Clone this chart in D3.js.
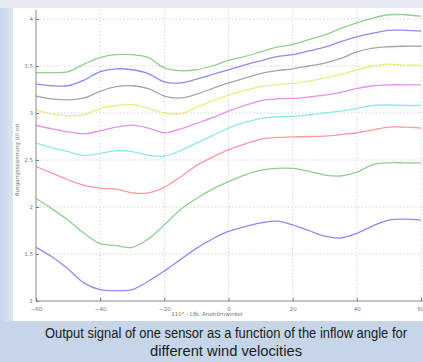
<!DOCTYPE html>
<html>
<head>
<meta charset="utf-8">
<script src="https://cdn.jsdelivr.net/npm/d3@7"></script>
<style>
  html, body { margin: 0; padding: 0; background: #c7d5e9; }
  svg { display: block; }
</style>
</head>
<body>
<div id="chart"></div>
<script>
// inflow angle, degrees
const angles = [-60, -55, -50, -45, -40, -35, -30, -25, -20, -15, -10, -5, 0, 5, 10, 15, 20, 25, 30, 35, 40, 45, 50, 55, 60];

// output voltage per wind velocity, bottom curve first
const v1 = [1.57, 1.47, 1.34, 1.19, 1.12, 1.11, 1.12, 1.21, 1.32, 1.44, 1.56, 1.66, 1.74, 1.79, 1.83, 1.85, 1.81, 1.75, 1.69, 1.67, 1.72, 1.80, 1.86, 1.87, 1.86];
const v2 = [2.09, 1.98, 1.86, 1.72, 1.61, 1.59, 1.57, 1.66, 1.81, 1.97, 2.09, 2.19, 2.27, 2.34, 2.39, 2.41, 2.41, 2.38, 2.34, 2.33, 2.37, 2.45, 2.47, 2.47, 2.47];
const v3 = [2.43, 2.36, 2.29, 2.23, 2.20, 2.19, 2.15, 2.15, 2.21, 2.32, 2.44, 2.53, 2.61, 2.67, 2.72, 2.74, 2.745, 2.75, 2.755, 2.77, 2.79, 2.82, 2.85, 2.85, 2.84];
const v4 = [2.68, 2.63, 2.59, 2.55, 2.57, 2.60, 2.59, 2.55, 2.54, 2.60, 2.68, 2.76, 2.84, 2.90, 2.94, 2.96, 2.965, 2.98, 3.00, 3.02, 3.05, 3.08, 3.085, 3.08, 3.08];
const v5 = [2.87, 2.83, 2.80, 2.78, 2.81, 2.85, 2.87, 2.84, 2.79, 2.83, 2.89, 2.95, 3.02, 3.08, 3.13, 3.15, 3.155, 3.17, 3.19, 3.22, 3.26, 3.29, 3.30, 3.30, 3.30];
const v6 = [3.03, 2.99, 2.97, 2.98, 3.05, 3.08, 3.09, 3.05, 3.00, 2.99, 3.06, 3.13, 3.19, 3.24, 3.28, 3.30, 3.315, 3.34, 3.37, 3.41, 3.46, 3.50, 3.52, 3.51, 3.51];
const v7 = [3.18, 3.15, 3.14, 3.16, 3.23, 3.28, 3.29, 3.26, 3.18, 3.16, 3.20, 3.26, 3.32, 3.37, 3.42, 3.45, 3.47, 3.50, 3.53, 3.58, 3.65, 3.69, 3.705, 3.71, 3.71];
const v8 = [3.31, 3.29, 3.29, 3.35, 3.44, 3.47, 3.46, 3.42, 3.33, 3.32, 3.36, 3.41, 3.46, 3.51, 3.555, 3.60, 3.62, 3.66, 3.70, 3.76, 3.81, 3.85, 3.88, 3.88, 3.87];
const v9 = [3.43, 3.43, 3.44, 3.52, 3.59, 3.62, 3.62, 3.59, 3.48, 3.45, 3.46, 3.50, 3.56, 3.60, 3.65, 3.70, 3.73, 3.78, 3.83, 3.90, 3.96, 4.01, 4.045, 4.045, 4.03];

const seriesList = [v1, v2, v3, v4, v5, v6, v7, v8, v9];
const lineColors = ['#8c8cf6', '#8fd08f', '#fb9a9a', '#8eeaea', '#ec8eec', '#ecec80', '#a6a6a6', '#8c8cf6', '#8fd08f'];

const xTicks = [-60, -40, -20, 0, 20, 40, 60];
const yTicks = [1, 1.5, 2, 2.5, 3, 3.5, 4];

const captionLines = ['Output signal of one sensor as a function of the inflow angle for', 'different wind velocities'];
const captionWidths = [362, 152];
const xLabel = '110° - Lfb. Anströmwinkel';
const yLabel = 'Ausgangsspannung U/I rot';

const width = 423, height = 362;
const panel = { left: 13, top: 8, right: 423, bottom: 321 };

const svg = d3.select('#chart')
  .append('svg')
  .attr('width', width)
  .attr('height', height);

// backgrounds
const grad = svg.append('defs').append('linearGradient')
  .attr('id', 'side')
  .attr('x1', 0).attr('x2', 1).attr('y1', 0).attr('y2', 0);
grad.append('stop').attr('offset', 0).attr('stop-color', '#c6d4e9');
grad.append('stop').attr('offset', 1).attr('stop-color', '#dde5f0');

svg.append('rect').attr('width', width).attr('height', height).attr('fill', '#c7d5e9');
svg.append('rect').attr('width', width).attr('height', panel.bottom).attr('fill', '#e6ebf3');
svg.append('rect').attr('y', panel.top).attr('width', panel.left).attr('height', panel.bottom - panel.top).attr('fill', 'url(#side)');
svg.append('rect')
  .attr('x', panel.left).attr('y', panel.top)
  .attr('width', panel.right - panel.left).attr('height', panel.bottom - panel.top)
  .attr('fill', '#ffffff');

// scales
const x = d3.scaleLinear().domain([-60, 60]).range([36, 421]);
const y = d3.scaleLinear().domain([1, 4]).range([301, 19]);

const plot = svg.append('g');

// grid
plot.append('g')
  .selectAll('line')
  .data(yTicks.slice(1))
  .join('line')
  .attr('x1', x(-60)).attr('x2', panel.right)
  .attr('y1', d => y(d)).attr('y2', d => y(d))
  .attr('stroke', '#cfd6cf')
  .attr('stroke-width', 1)
  .attr('stroke-dasharray', '1.5,2');

plot.append('g')
  .selectAll('line')
  .data(xTicks.slice(1))
  .join('line')
  .attr('x1', d => x(d)).attr('x2', d => x(d))
  .attr('y1', panel.top + 2).attr('y2', y(1))
  .attr('stroke', '#d6d6d6')
  .attr('stroke-width', 1)
  .attr('stroke-dasharray', '1.5,2');

// curves
svg.append('clipPath').attr('id', 'plotclip')
  .append('rect')
  .attr('x', x(-60)).attr('y', panel.top)
  .attr('width', panel.right - x(-60)).attr('height', y(1) - panel.top);

const line = d3.line()
  .x((d, i) => x(angles[i]))
  .y(d => y(d))
  .curve(d3.curveCatmullRom.alpha(0.5));

plot.append('g')
  .attr('clip-path', 'url(#plotclip)')
  .selectAll('path')
  .data(seriesList)
  .join('path')
  .attr('d', d => line(d))
  .attr('fill', 'none')
  .attr('stroke', (d, i) => lineColors[i])
  .attr('stroke-width', 1.3);

// axes
const xAxis = d3.axisBottom(x).tickValues(xTicks).tickSize(-3).tickPadding(6).tickFormat(d3.format('d'));
const yAxis = d3.axisLeft(y).tickValues(yTicks).tickSize(-3).tickPadding(3).tickFormat(d => d);

const gx = svg.append('g').attr('transform', `translate(0,${y(1)})`).call(xAxis);
const gy = svg.append('g').attr('transform', `translate(${x(-60)},0)`).call(yAxis);

[gx, gy].forEach(g => {
  g.select('.domain').attr('stroke', '#8a8a8a');
  g.selectAll('.tick line').attr('stroke', '#7a7a7a');
  g.selectAll('.tick text')
    .attr('fill', '#777')
    .style('font', '5.5px "DejaVu Sans", sans-serif');
});
gy.select('.domain').attr('d', `M0,${y(1)}V${panel.top + 2}`);
gx.select('.domain').attr('d', `M${x(-60)},0H${panel.right}`);
// the last x label sits on the image edge in the original; pull it just inside
gx.selectAll('.tick text').filter(d => d === 60).attr('text-anchor', 'end').attr('dx', '3');

// axis titles
svg.append('text')
  .attr('x', 207).attr('y', 316)
  .attr('text-anchor', 'middle')
  .attr('fill', '#777')
  .style('font', '5.5px "DejaVu Sans", sans-serif')
  .text(xLabel);

svg.append('text')
  .attr('transform', `translate(19,160) rotate(-90)`)
  .attr('text-anchor', 'middle')
  .attr('fill', '#777')
  .style('font', '5.5px "DejaVu Sans", sans-serif')
  .text(yLabel);

// caption
svg.append('g')
  .selectAll('text')
  .data(captionLines)
  .join('text')
  .attr('x', 226)
  .attr('y', (d, i) => 338 + i * 18)
  .attr('text-anchor', 'middle')
  .attr('textLength', (d, i) => captionWidths[i])
  .attr('lengthAdjust', 'spacingAndGlyphs')
  .attr('fill', '#1a1a1a')
  .style('font', '14px "Liberation Sans Narrow", "Liberation Sans", Arial, sans-serif')
  .text(d => d);
</script>
</body>
</html>
